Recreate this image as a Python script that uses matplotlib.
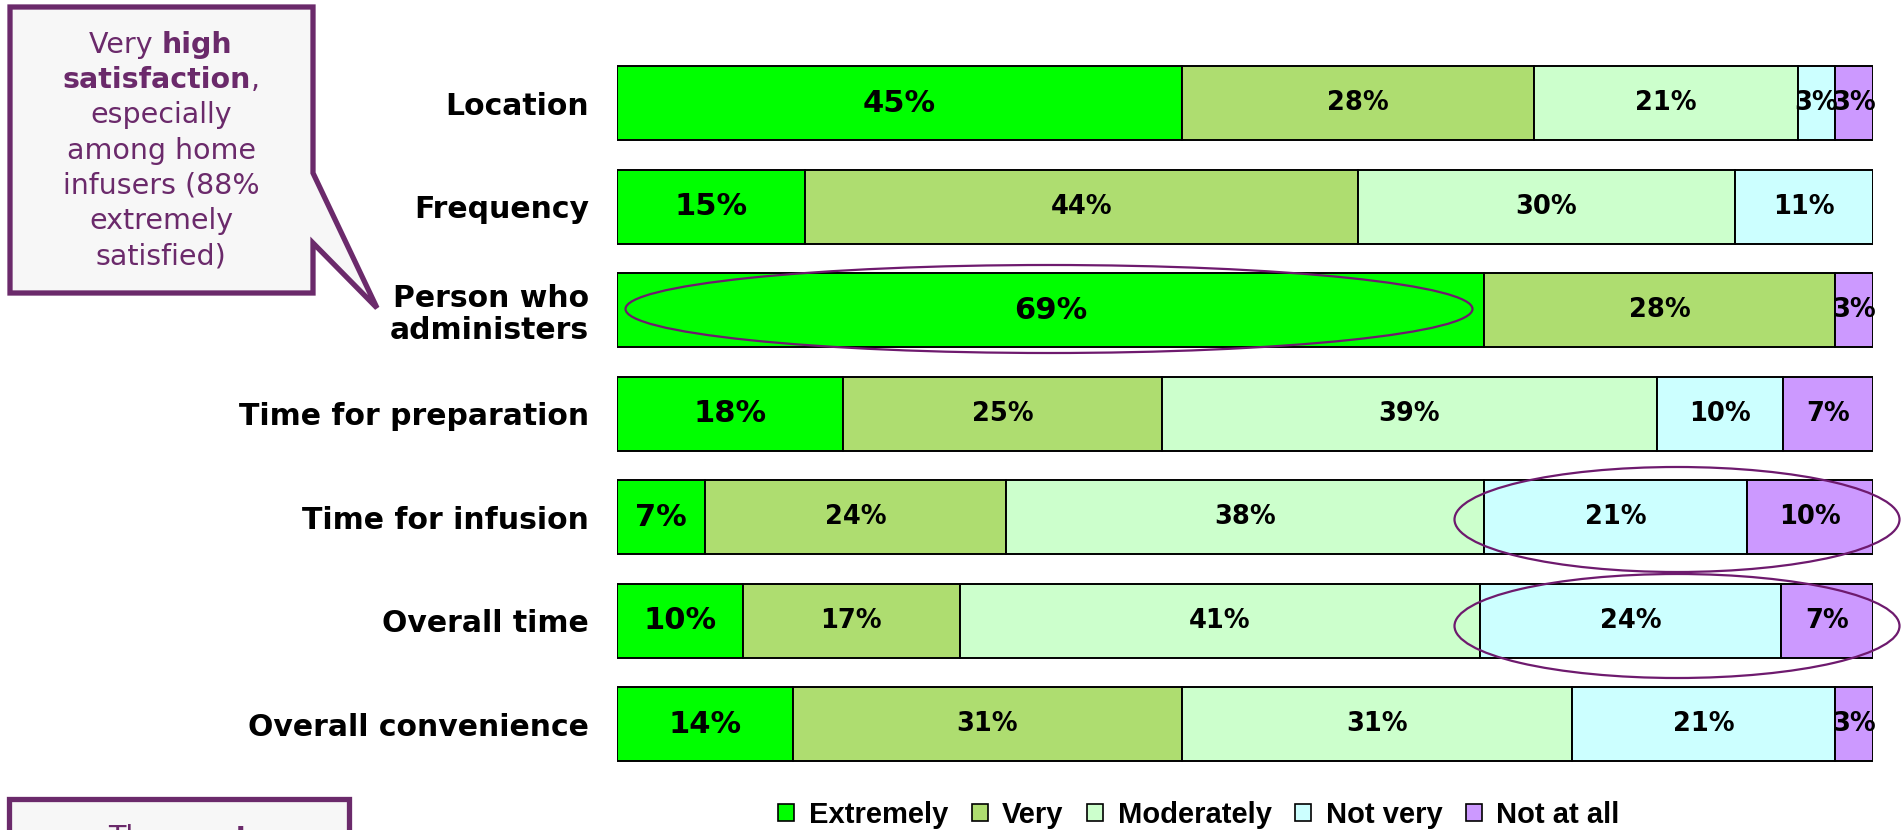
import matplotlib
matplotlib.use("Agg")
import matplotlib.pyplot as plt
from matplotlib.patches import Polygon, Ellipse, Rectangle, Patch
import numpy as np

W, H = 1901, 830
DPI = 100

categories = ["Location", "Frequency", "Person who\nadministers", "Time for preparation",
              "Time for infusion", "Overall time", "Overall convenience"]
series_names = ["Extremely", "Very", "Moderately", "Not very", "Not at all"]
extremely  = [45, 15, 69, 18, 7, 10, 14]
very       = [28, 44, 28, 25.4, 24, 17.3, 31]
moderately = [21, 30, 0, 39.4, 38, 41.4, 31]
not_very   = [3, 11, 0, 10, 21, 24, 21]
not_at_all = [3, 0, 3, 7.2, 10, 7.3, 3]
series = [extremely, very, moderately, not_very, not_at_all]
colors = ["#00FF00", "#AEDD70", "#CCFFCC", "#CCFFFF", "#CC99FF"]

PURPLE = "#6B2A6B"
ELL = "#6E1A6E"

fig = plt.figure(figsize=(W / DPI, H / DPI), dpi=DPI)
fig.patch.set_facecolor("white")

def fx(px):
    return px / W

def fy(py):
    return 1 - py / H

ax_left, ax_right = 617, 1873
row0, step = 103, 103.5
ax_top = row0 - step / 2
ax_bot = row0 + step * 6 + step / 2
ax = fig.add_axes([fx(ax_left), fy(ax_bot), (ax_right - ax_left) / W, (ax_bot - ax_top) / H])

y = np.arange(len(categories))
left = np.zeros(len(categories))
bar_h = 74 / step
for si, (vals, col) in enumerate(zip(series, colors)):
    vals = np.array(vals, dtype=float)
    ax.barh(y, vals, left=left, height=bar_h, color=col, edgecolor="black", linewidth=1.4)
    fs = 22 if si == 0 else 18.5
    for yi, (v, l) in enumerate(zip(vals, left)):
        if v > 0:
            ax.text(l + v / 2, yi, f"{v:.0f}%", ha="center", va="center",
                    fontsize=fs, fontweight="bold", color="black", family="DejaVu Sans")
    left += vals

ax.set_xlim(0, 100)
ax.set_ylim(6.5, -0.5)
ax.set_yticks(y)
ax.set_yticklabels(categories, fontsize=21.5, fontweight="bold", family="DejaVu Sans", linespacing=1.15)
ax.tick_params(axis="y", length=0, pad=20)
ax.set_xticks([])
for s in ax.spines.values():
    s.set_visible(False)

# Legend
handles = [Patch(facecolor=c, edgecolor="black", linewidth=1.2) for c in colors]
fig.legend(handles, series_names, loc="center", bbox_to_anchor=(fx(1199), fy(815)),
           ncol=5, frameon=False, handlelength=0.55, handleheight=0.55,
           handletextpad=0.5, columnspacing=0.8,
           prop={"family": "Liberation Sans", "weight": "bold", "size": 21})

# Callout box with pointer
pts = [(10, 7), (313, 7), (313, 173), (377, 308), (313, 243), (313, 293), (10, 293)]
poly = Polygon([(fx(a), fy(b)) for a, b in pts], closed=True, transform=fig.transFigure,
               facecolor="#F7F7F7", edgecolor=PURPLE, linewidth=3.8, joinstyle="miter")
fig.patches.append(poly)

# Bottom-left box (cut off by the figure edge)
rect = Rectangle((fx(9), fy(860)), fx(349) - fx(9), fy(799) - fy(860), transform=fig.transFigure,
                 facecolor="#F7F7F7", edgecolor=PURPLE, linewidth=3.8)
fig.patches.append(rect)

# Ellipses
for cx, cy, ew, eh in [(1049, 309, 847, 88), (1677, 519.5, 445, 105), (1677, 626, 445, 104)]:
    e = Ellipse((fx(cx), fy(cy)), ew / W, eh / H, transform=fig.transFigure,
                facecolor="none", edgecolor=ELL, linewidth=1.6)
    fig.patches.append(e)

fig.canvas.draw()
renderer = fig.canvas.get_renderer()

def mixed_line(cx, base_y, parts, size=20.5):
    texts = []
    for s, w in parts:
        t = fig.text(0, fy(base_y), s, fontsize=size, fontweight=w, color=PURPLE,
                     family="DejaVu Sans", ha="left", va="baseline")
        texts.append(t)
    widths = [t.get_window_extent(renderer).width for t in texts]
    total = sum(widths)
    x = cx - total / 2
    for t, wd in zip(texts, widths):
        t.set_x(fx(x))
        x += wd

cx_box = 161
lines = [
    [("Very ", "normal"), ("high", "bold")],
    [("satisfaction", "bold"), (",", "normal")],
    [("especially", "normal")],
    [("among home", "normal")],
    [("infusers (88%", "normal")],
    [("extremely", "normal")],
    [("satisfied)", "normal")],
]
base0 = 53
for i, parts in enumerate(lines):
    mixed_line(cx_box, base0 + i * 35.2, parts)

mixed_line(179, 846, [("The ", "normal"), ("most", "bold")])

fig.savefig("out.png", dpi=DPI, facecolor="white")
